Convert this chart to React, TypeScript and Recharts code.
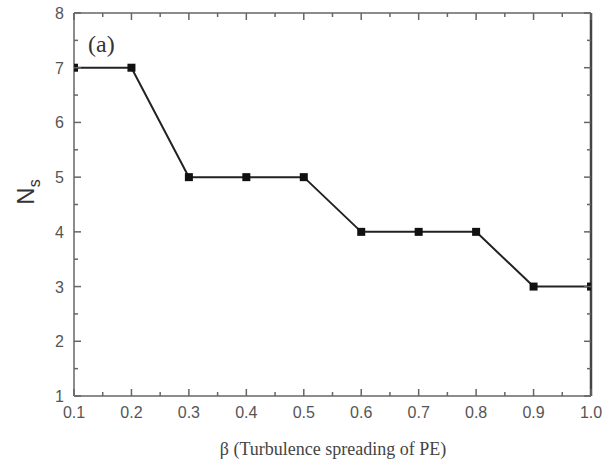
import React from "react";
import { LineChart, Line, XAxis, YAxis, Customized } from "recharts";

const betaValues = [0.1, 0.2, 0.3, 0.4, 0.5, 0.6, 0.7, 0.8, 0.9, 1.0];
const nsValues = [7, 7, 5, 5, 5, 4, 4, 4, 3, 3];
const xTicks = [0.1, 0.15, 0.2, 0.25, 0.3, 0.35, 0.4, 0.45, 0.5, 0.55, 0.6, 0.65, 0.7, 0.75, 0.8, 0.85, 0.9, 0.95, 1.0];
const yTicks = [1, 1.5, 2, 2.5, 3, 3.5, 4, 4.5, 5, 5.5, 6, 6.5, 7, 7.5, 8];

const data = betaValues.map((b, i) => ({ beta: b, ns: nsValues[i] }));

const AXIS = "#666";
const LABEL = "#555";
const isMajor = (v: number) => Math.abs(v * 10 - Math.round(v * 10)) < 1e-6;
const isMajorY = (v: number) => Number.isInteger(v);

function BottomTick({ x, y, payload }: any) {
  const major = isMajor(payload.value);
  return (
    <g>
      <line x1={x} x2={x} y1={y} y2={y - (major ? 7 : 4)} stroke={AXIS} strokeWidth={1.5} />
      {major && (
        <text x={x} y={y + 22} textAnchor="middle" fill={LABEL} fontSize={16} fontFamily="Liberation Sans, Arial, sans-serif">
          {payload.value === 1 ? "1.0" : payload.value.toFixed(1)}
        </text>
      )}
    </g>
  );
}

function TopTick({ x, y, payload }: any) {
  const major = isMajor(payload.value);
  return <line x1={x} x2={x} y1={y} y2={y + (major ? 7 : 4)} stroke={AXIS} strokeWidth={1.5} />;
}

function LeftTick({ x, y, payload }: any) {
  const major = isMajorY(payload.value);
  return (
    <g>
      <line x1={x} x2={x + (major ? 7 : 4)} y1={y} y2={y} stroke={AXIS} strokeWidth={1.5} />
      {major && (
        <text x={x - 10} y={y + 6} textAnchor="end" fill={LABEL} fontSize={16} fontFamily="Liberation Sans, Arial, sans-serif">
          {payload.value}
        </text>
      )}
    </g>
  );
}

function RightTick({ x, y, payload }: any) {
  const major = isMajorY(payload.value);
  return <line x1={x} x2={x - (major ? 7 : 4)} y1={y} y2={y} stroke={AXIS} strokeWidth={1.5} />;
}

function SquareDot({ cx, cy }: any) {
  if (cx == null || cy == null) return null;
  return <rect x={cx - 4} y={cy - 4} width={8} height={8} fill="#111" />;
}

function Labels() {
  return (
    <g>
      <text x={88} y={52} fontSize={24} fill="#333" fontFamily="Liberation Serif, Times New Roman, serif">
        (a)
      </text>
      <text
        transform="translate(34,192) rotate(-90)"
        textAnchor="middle"
        fontSize={24}
        fill="#333"
        fontFamily="Liberation Sans, Arial, sans-serif"
      >
        N
        <tspan fontSize={16} dy={6}>s</tspan>
      </text>
      <text x={333} y={455} textAnchor="middle" fontSize={18} fill="#444" fontFamily="Liberation Serif, Times New Roman, serif">
        β (Turbulence spreading of PE)
      </text>
    </g>
  );
}

export default function App() {
  return (
    <div style={{ position: "absolute", left: 0, top: 0, background: "#fff" }}>
      <LineChart width={602} height={464} data={data} margin={{ top: 12, right: 10, left: 0, bottom: 0 }}>
        <XAxis
          dataKey="beta"
          type="number"
          domain={[0.1, 1.0]}
          ticks={xTicks}
          interval={0}
          height={68}
          tickSize={0}
          tickMargin={0}
          tickLine={false}
          allowDataOverflow
          stroke={AXIS}
          strokeWidth={1.5}
          tick={<BottomTick />}
        />
        <XAxis
          xAxisId="top"
          orientation="top"
          dataKey="beta"
          type="number"
          domain={[0.1, 1.0]}
          ticks={xTicks}
          interval={0}
          height={1}
          tickSize={0}
          tickMargin={0}
          tickLine={false}
          allowDataOverflow
          stroke={AXIS}
          strokeWidth={1.5}
          tick={<TopTick />}
        />
        <YAxis
          type="number"
          domain={[1, 8]}
          ticks={yTicks}
          interval={0}
          width={74}
          tickSize={0}
          tickMargin={0}
          tickLine={false}
          allowDataOverflow
          stroke={AXIS}
          strokeWidth={1.5}
          tick={<LeftTick />}
        />
        <YAxis
          yAxisId="right"
          orientation="right"
          type="number"
          domain={[1, 8]}
          ticks={yTicks}
          interval={0}
          width={1}
          tickSize={0}
          tickMargin={0}
          tickLine={false}
          allowDataOverflow
          stroke="#444"
          strokeWidth={2.5}
          tick={<RightTick />}
        />
        <Line
          dataKey="ns"
          stroke="#222"
          strokeWidth={2}
          dot={<SquareDot />}
          activeDot={false}
          isAnimationActive={false}
        />
        <Customized component={<Labels />} />
      </LineChart>
    </div>
  );
}
